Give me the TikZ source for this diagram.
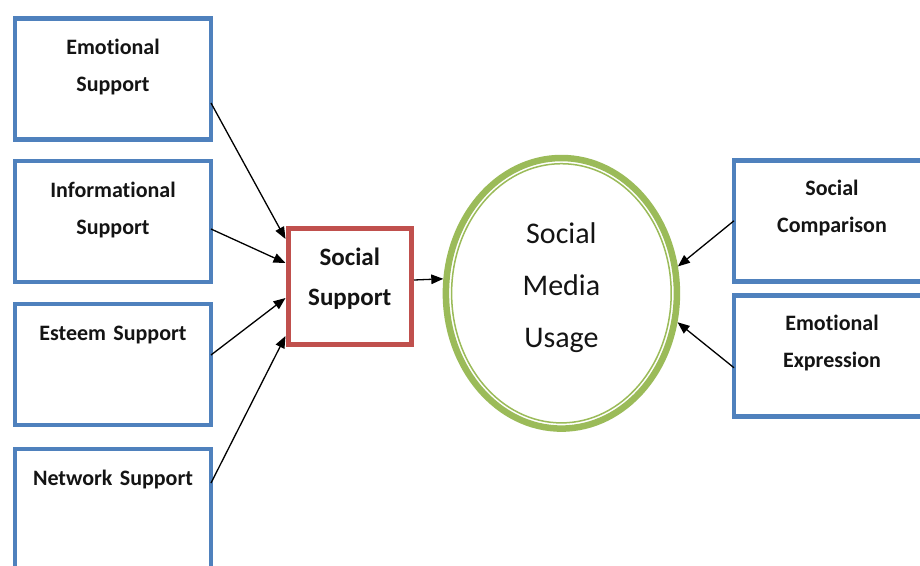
\documentclass[tikz,border=0pt]{standalone}
\usepackage{fontspec}
\setmainfont{Carlito}[Ligatures=NoCommon, WordSpace=0.7]
\usetikzlibrary{shapes.geometric,arrows.meta,calc}
\definecolor{boxblue}{RGB}{79,129,189}
\definecolor{boxred}{RGB}{192,80,77}
\definecolor{ringgreen}{RGB}{155,187,89}
\definecolor{inkc}{RGB}{20,20,20}
\begin{document}
\begin{tikzpicture}[x=1pt,y=-1pt,
  bbox/.style={draw=boxblue, line width=4.5pt, minimum width=196pt, minimum height=121pt, inner sep=0pt, outer sep=0pt},
  rbox/.style={draw=boxred, line width=5pt, minimum width=123.5pt, minimum height=116pt, inner sep=0pt, outer sep=2.5pt},
  ring/.style={ellipse, draw=ringgreen, line width=6.5pt, minimum width=231pt, minimum height=270.6pt, inner sep=0pt, outer sep=3.25pt},
  lbl/.style={font=\bfseries\fontsize{22}{37}\selectfont, text=inkc, align=center, text width=190pt, inner sep=0pt, anchor=base},
  clbl/.style={font=\bfseries\fontsize{25}{40}\selectfont, text=inkc, align=center, text width=120pt, inner sep=0pt, anchor=base},
  ulbl/.style={font=\fontsize{30}{52}\selectfont, text=inkc, align=center, text width=200pt, inner sep=0pt, anchor=base},
  arr/.style={-{Triangle[length=12pt,width=9.5pt]}, line width=1.3pt, draw=black}]
\useasboundingbox (0,0) rectangle (920,565);
\fill[white] (0,0) rectangle (920,565);
\clip (0,0) rectangle (920,565);

% left boxes
\node[bbox] (e1) at (113,79) {};
\node[bbox] (e2) at (113,221.5) {};
\node[bbox] (e3) at (113,364.5) {};
\node[bbox] (e4) at (113,509.5) {};
\node[lbl] (t1) at ([yshift=-36pt]e1.north) {Emotional\\Support};
\node[lbl] (t2) at ([yshift=-36pt]e2.north) {Informational\\Support};
\node[lbl] (t3) at ([yshift=-36pt]e3.north) {Esteem Support};
\node[lbl] (t4) at ([yshift=-36pt]e4.north) {Network Support};

% central box
\node[rbox] (ss) at (349.75,286) {};
\node[clbl] (tss) at ([yshift=-40pt]ss.north) {Social\\Support};

% ellipse
\node[ring] (smu) at (561.4,293.3) {};
\draw[ringgreen, line width=1.5pt] (smu.center) ellipse [x radius=109.8pt, y radius=129.6pt];
\node[ulbl] (tsmu) at ([yshift=50pt]smu.center) {Social\\Media\\Usage};

% right boxes
\node[bbox] (sc) at (832,220.75) {};
\node[bbox] (ee) at (832,355.75) {};
\node[lbl] (tsc) at ([yshift=-35pt]sc.north) {Social\\Comparison};
\node[lbl] (tee) at ([yshift=-35pt]ee.north) {Emotional\\Expression};

% arrows
\draw[arr] ([yshift=-24pt]e1.east) -- ([yshift=47pt]ss.west);
\draw[arr] ([yshift=-7.5pt]e2.east) -- ([yshift=23pt]ss.west);
\draw[arr] ([yshift=9.5pt]e3.east) -- ([yshift=-12pt]ss.west);
\draw[arr] ([yshift=26.5pt]e4.east) -- ([yshift=-50pt]ss.west);
\draw[arr] ([yshift=6pt]ss.east) -- (smu.173.4);
\draw[arr] (sc.west) -- (smu.13.3);
\draw[arr] ([yshift=-12pt]ee.west) -- (smu.346.2);
\end{tikzpicture}
\end{document}
